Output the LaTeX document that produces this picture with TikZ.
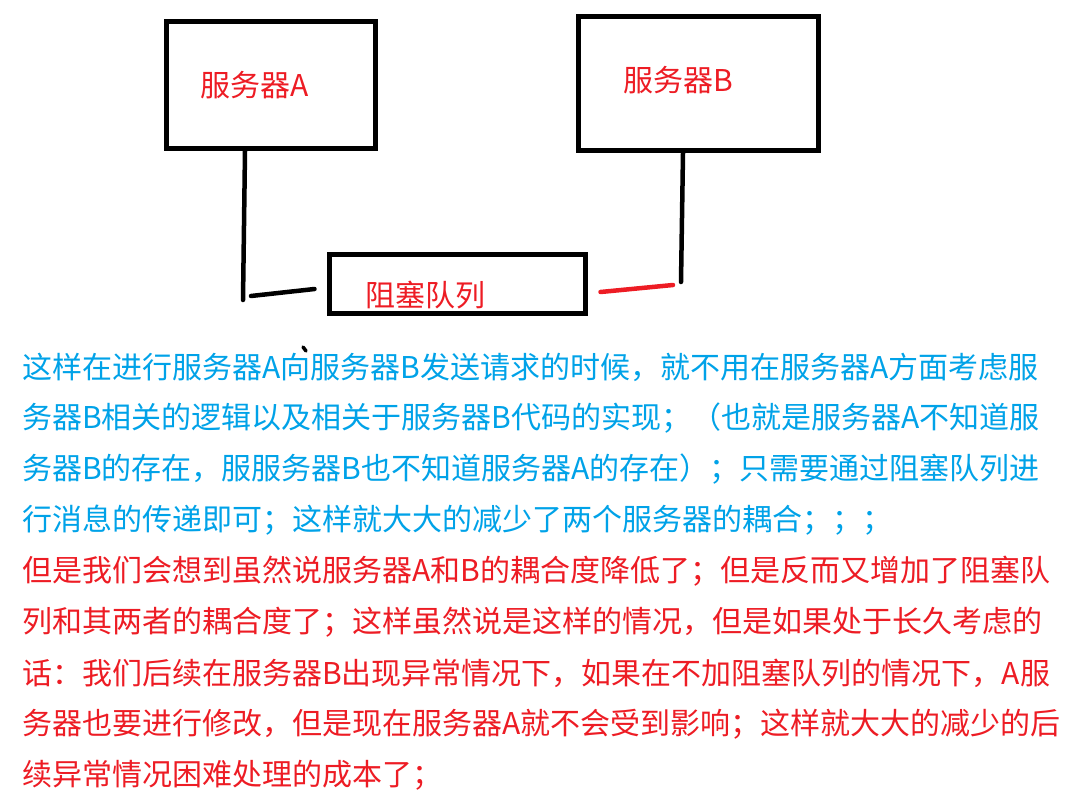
\documentclass[tikz,border=0pt]{standalone}
\usepackage{fontspec}
\newfontfamily\cjk{Noto Sans CJK SC}
\usepackage{tikz}
\usetikzlibrary{positioning,calc}

\definecolor{paintred}{RGB}{237,28,36}
\definecolor{paintblue}{RGB}{0,162,232}

\begin{document}
\begin{tikzpicture}[x=1pt,y=-1pt,
    box/.style={draw,line width=5pt,inner sep=0pt},
    link/.style={line width=4.5pt,line cap=round},
    lbl/.style={anchor=west,inner sep=0pt,text=paintred,font=\cjk\fontsize{30}{36}\selectfont},
    blueline/.style={anchor=west,inner sep=0pt,text=paintblue,font=\cjk\fontsize{30}{36}\selectfont},
    redline/.style={anchor=west,inner sep=0pt,text=paintred,font=\cjk\fontsize{30}{36}\selectfont}]
  \useasboundingbox (0,0) rectangle (1081,800);
  % the three boxes
  \node[box,minimum width=209,minimum height=127] (srvA) at (271,85) {};
  \node[box,minimum width=240,minimum height=134] (srvB) at (698.5,83.5) {};
  \node[box,minimum width=256,minimum height=59] (queue) at (457.5,284) {};
  \node[lbl] (srvAtxt) at (200,85) {服务器A};
  \node[lbl] (srvBtxt) at (623,80) {服务器B};
  \node[lbl] (queuetxt) at (365,295) {阻塞队列};
  % hand drawn connectors
  \coordinate (aEnd) at (243,300);
  \coordinate (aStart) at (251,296);
  \coordinate (bEnd) at (673,285);
  \coordinate (bBot) at (681,282);
  \draw[link] ([xshift=-26]srvA.south) -- (aEnd);
  \draw[link] (aStart) -- ([xshift=-12.5,yshift=-5]queue.west);
  \draw[link,paintred] ([xshift=12.5,yshift=-8]queue.east) -- (bEnd);
  \draw[link] ([xshift=-15.5]srvB.south) -- (bBot);
  \draw[line width=3.5pt,line cap=round] (303,347) -- (306,351);
  % the text below
  \node[blueline] (l1) at (22,367) {这样在进行服务器A向服务器B发送请求的时候，就不用在服务器A方面考虑服};
  \node[blueline] (l2) at (22,418) {务器B相关的逻辑以及相关于服务器B代码的实现；（也就是服务器A不知道服};
  \node[blueline] (l3) at (22,469) {务器B的存在，服服务器B也不知道服务器A的存在）；只需要通过阻塞队列进};
  \node[blueline] (l4) at (22,520) {行消息的传递即可；这样就大大的减少了两个服务器的耦合；；；};
  \node[redline] (l5) at (22,571) {但是我们会想到虽然说服务器A和B的耦合度降低了；但是反而又增加了阻塞队};
  \node[redline] (l6) at (22,622) {列和其两者的耦合度了；这样虽然说是这样的情况，但是如果处于长久考虑的};
  \node[redline] (l7) at (22,673) {话：我们后续在服务器B出现异常情况下，如果在不加阻塞队列的情况下，A服};
  \node[redline] (l8) at (22,724) {务器也要进行修改，但是现在服务器A就不会受到影响；这样就大大的减少的后};
  \node[redline] (l9) at (22,775) {续异常情况困难处理的成本了；};
\end{tikzpicture}
\end{document}
